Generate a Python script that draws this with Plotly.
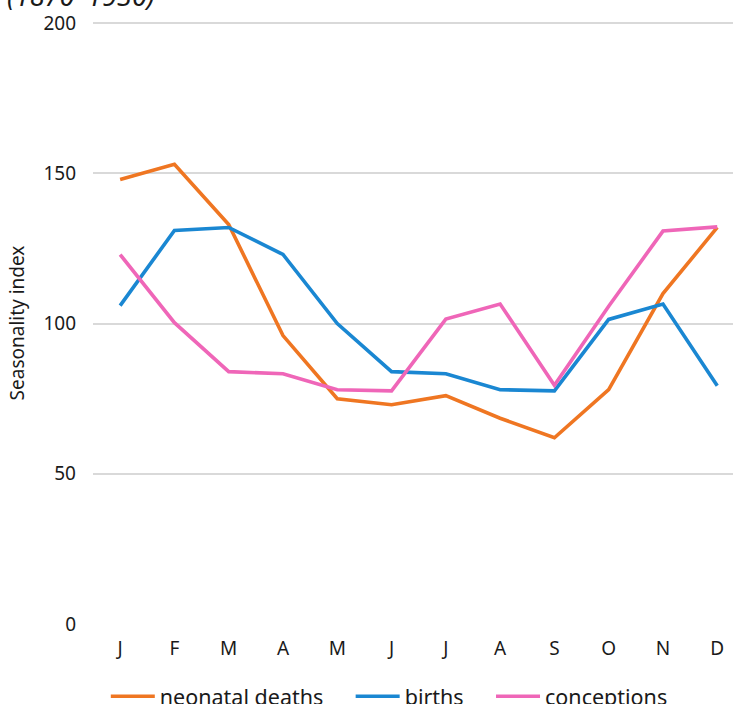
import plotly.graph_objects as go

# Monthly seasonality indices
months = ["J", "F", "M", "A", "M", "J", "J", "A", "S", "O", "N", "D"]
neonatal_deaths = [148, 153, 133, 96, 75, 73, 76, 68.5, 62, 78, 110, 132]
births = [106, 131, 132, 123, 100, 84, 83.3, 78, 77.6, 101.4, 106.5, 79.3]
conceptions = [123, 100.3, 84, 83.3, 78, 77.6, 101.5, 106.5, 79.5, 105.8, 130.8, 132.2]

y_ticks = [0, 50, 100, 150, 200]

FONT = "Noto Sans"
GAP = "\u00a0" * 4  # extra room between legend entries
x = list(range(len(months)))

series = [
    ("neonatal deaths", neonatal_deaths, "#ef7622"),
    ("births", births, "#1a87d2"),
    ("conceptions", conceptions, "#ef66b8"),
]

fig = go.Figure()
for name, vals, color in series:
    fig.add_trace(go.Scatter(
        x=x, y=vals, name=name + GAP, mode="lines",
        line=dict(color=color, width=3.6),
    ))

fig.update_layout(
    width=733, height=704,
    margin=dict(l=93, r=0, t=22, b=80, autoexpand=False),
    paper_bgcolor="white", plot_bgcolor="white",
    font=dict(family=FONT, color="#1a1a1a"),
    showlegend=True,
    legend=dict(
        orientation="h", x=0.02, xanchor="left",
        y=-0.086, yanchor="top",
        font=dict(size=21.5, family=FONT, color="#1a1a1a"),
        itemwidth=44, traceorder="normal",
    ),
    annotations=[dict(
        text="<i>(1870–1930)</i>", xref="paper", yref="paper",
        x=-0.137, y=1.0, xanchor="left", yanchor="bottom", yshift=6,
        showarrow=False, font=dict(size=27, family=FONT, color="#1a1a1a"),
    )],
)

fig.update_xaxes(
    tickmode="array", tickvals=x, ticktext=months,
    range=[-0.5, 11.29], showgrid=False, zeroline=False, showline=False,
    ticks="", ticklabelstandoff=11,
    tickfont=dict(size=19, family=FONT, color="#1a1a1a"),
)
fig.update_yaxes(
    range=[0, 200.4], tickvals=y_ticks, showgrid=True,
    gridcolor="#d9d9d9", gridwidth=1.5, zeroline=False, showline=False,
    ticks="", ticklabelstandoff=16,
    tickfont=dict(size=19, family=FONT, color="#1a1a1a"),
    title=dict(text="Seasonality index", font=dict(size=19, family=FONT, color="#1a1a1a"), standoff=13),
)

fig.write_html("out.html")
